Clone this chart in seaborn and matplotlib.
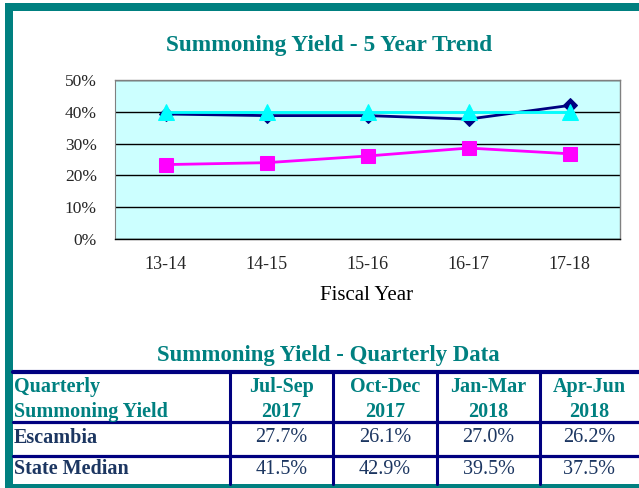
import matplotlib
matplotlib.use("Agg")
import matplotlib.pyplot as plt
from matplotlib.lines import Line2D
from matplotlib.patches import Rectangle
from matplotlib.ticker import FixedLocator, NullFormatter, FuncFormatter
import seaborn as sns
import pandas as pd

# five year trend (percent)
years = ["13-14", "14-15", "15-16", "16-17", "17-18"]
state_median = [39.3, 38.8, 38.8, 37.7, 42.0]
target = [40.0, 40.0, 40.0, 40.0, 40.0]
escambia = [23.4, 24.0, 26.1, 28.6, 26.8]

# quarterly table
quarter_names = ["Jul-Sep", "Oct-Dec", "Jan-Mar", "Apr-Jun"]
quarter_years = ["2017", "2017", "2018", "2018"]
escambia_q = [27.7, 26.1, 27.0, 26.2]
state_q = [41.5, 42.9, 39.5, 37.5]

W, H = 639, 488
TEAL = "#008080"
NAVY = "#000080"
TXT = "#1c3661"

sns.set_style("white")
plt.rcParams["font.family"] = ["Liberation Serif", "DejaVu Serif"]

fig = plt.figure(figsize=(W / 100, H / 100), dpi=100)


def fx(x):
    return x / W


def fy(y):
    return 1 - y / H


# frame
for (x0, y0, x1, y1) in [(5, 3, 639, 11), (5, 3, 13, 488), (5, 484, 639, 488)]:
    fig.add_artist(Rectangle((fx(x0), fy(y1)), fx(x1) - fx(x0), fy(y0) - fy(y1),
                             transform=fig.transFigure, color=TEAL, lw=0))

fig.text(fx(329), fy(45), "Summoning Yield - 5 Year Trend", ha="center", va="center",
         fontsize=16.8, fontweight="bold", color=TEAL)

ax = fig.add_axes([fx(115), fy(239), fx(620) - fx(115), fy(80) - fy(239)])
ax.set_facecolor("#CCFFFF")

df = pd.DataFrame({"pos": range(len(years)), "state": state_median,
                   "target": target, "escambia": escambia})
sns.lineplot(data=df, x="pos", y="state", ax=ax, color=NAVY, marker="D",
             markersize=7, markeredgecolor=NAVY, lw=2, zorder=3)
sns.lineplot(data=df, x="pos", y="target", ax=ax, color="#00FFFF", marker="^",
             markersize=11, markeredgecolor="#00FFFF", lw=2, zorder=4)
sns.lineplot(data=df, x="pos", y="escambia", ax=ax, color="#FF00FF", marker="s",
             markersize=9.5, markeredgecolor="#FF00FF", lw=2, zorder=4)

ax.set_xlim(-0.5, len(years) - 0.5)
ax.set_ylim(0, 50)
ax.set_yticks(range(0, 51, 10))
ax.yaxis.set_major_formatter(FuncFormatter(lambda v, p: f"{v:.0f}%"))
ax.yaxis.grid(True, color="black", lw=1)
ax.set_axisbelow(True)
ax.tick_params(axis="y", length=4, width=1, color="black", direction="out", pad=9,
               labelsize=12.5)

ax.xaxis.set_major_locator(FixedLocator([i - 0.5 for i in range(len(years) + 1)]))
ax.xaxis.set_major_formatter(NullFormatter())
ax.xaxis.set_minor_locator(FixedLocator(range(len(years))))
ax.set_xticklabels(years, minor=True)
ax.tick_params(axis="x", which="major", length=5, direction="out", color="black", width=1)
ax.tick_params(axis="x", which="minor", length=0, pad=12, labelsize=13)
ax.set_xlabel("")
ax.set_ylabel("")
for s in ["top", "right"]:
    ax.spines[s].set_color("#808080")
    ax.spines[s].set_linewidth(1)
ax.spines["left"].set_color("#808080")
ax.spines["bottom"].set_color("black")
ax.spines["bottom"].set_linewidth(1)

fig.text(fx(367), fy(295), "Fiscal Year", ha="center", va="center", fontsize=15, color="black")

# quarterly table
fig.text(fx(328), fy(355), "Summoning Yield - Quarterly Data", ha="center", va="center",
         fontsize=16.4, fontweight="bold", color=TEAL)

for y, lw in [(372, 3), (422, 2.3), (456, 2.3)]:
    fig.add_artist(Line2D([fx(13), fx(639)], [fy(y), fy(y)], transform=fig.transFigure,
                          color=NAVY, lw=lw))
col_edges = [230, 333, 437, 540]
for x in col_edges:
    fig.add_artist(Line2D([fx(x), fx(x)], [fy(372), fy(484)], transform=fig.transFigure,
                          color=NAVY, lw=2.2))

FS = 14.5
col_centers = [281.5, 385, 488.5, 589.5]
fig.text(fx(14), fy(387), "Quarterly", ha="left", va="center", fontsize=FS,
         fontweight="bold", color=TEAL)
fig.text(fx(14), fy(412), "Summoning Yield", ha="left", va="center", fontsize=FS,
         fontweight="bold", color=TEAL)
fig.text(fx(14), fy(438), "Escambia", ha="left", va="center", fontsize=FS,
         fontweight="bold", color=TXT)
fig.text(fx(14), fy(469), "State Median", ha="left", va="center", fontsize=FS,
         fontweight="bold", color=TXT)
for cx, qn, qy, e, s in zip(col_centers, quarter_names, quarter_years, escambia_q, state_q):
    fig.text(fx(cx), fy(387), qn, ha="center", va="center", fontsize=FS,
             fontweight="bold", color=TEAL)
    fig.text(fx(cx), fy(412), qy, ha="center", va="center", fontsize=FS,
             fontweight="bold", color=TEAL)
    fig.text(fx(cx), fy(438), f"{e:.1f}%", ha="center", va="center", fontsize=FS, color=TXT)
    fig.text(fx(cx), fy(469), f"{s:.1f}%", ha="center", va="center", fontsize=FS, color=TXT)

fig.savefig("out.png", dpi=100, facecolor="white")
